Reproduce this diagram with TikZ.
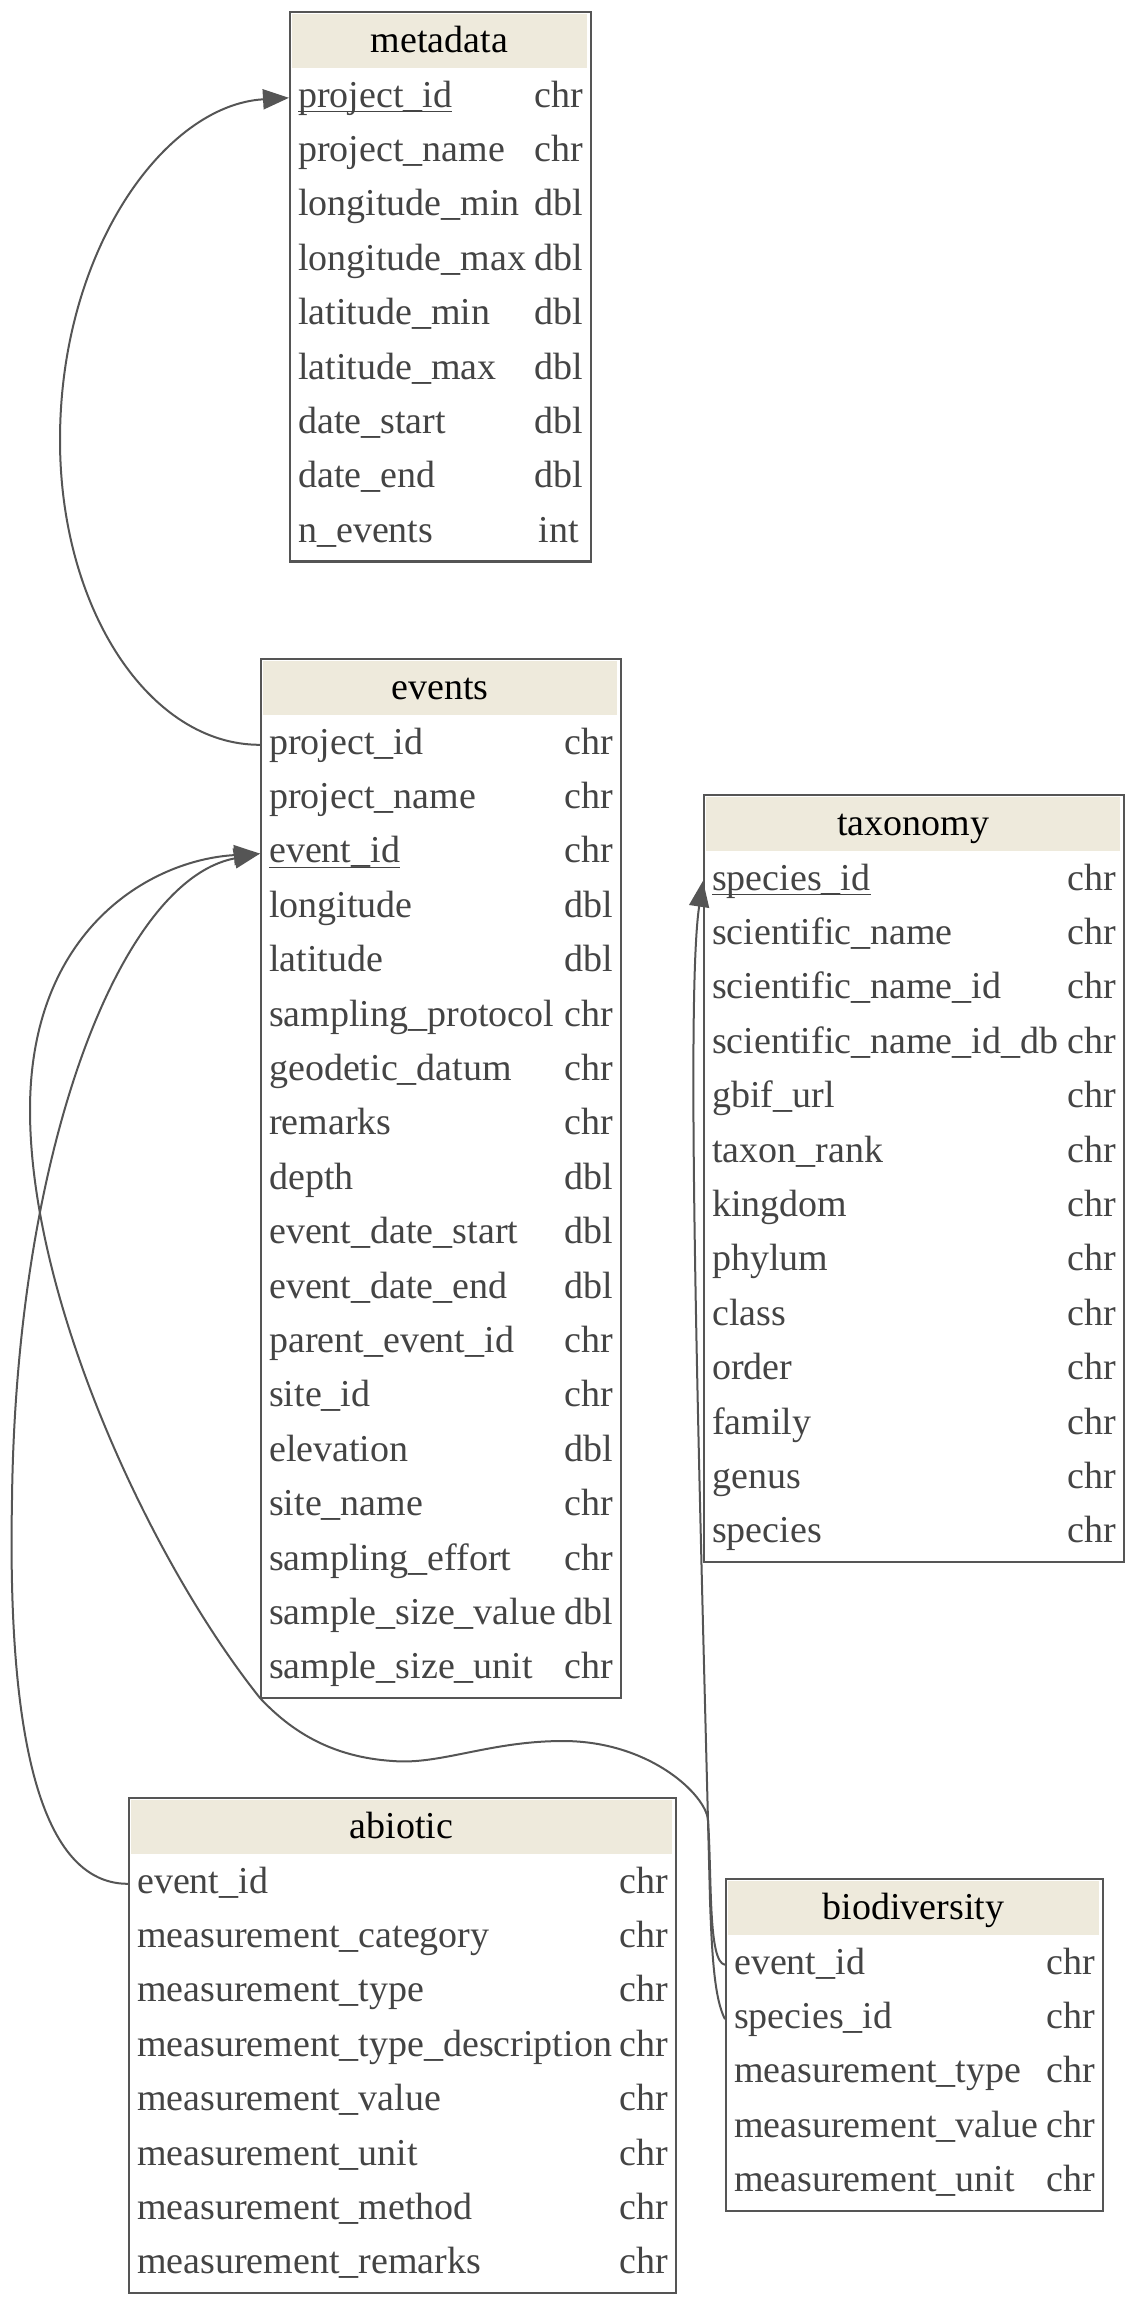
\documentclass[tikz,border=0pt]{standalone}
\usepackage{fontspec}
\setmainfont{Liberation Serif}
\usetikzlibrary{arrows.meta}
\definecolor{hdrfill}{HTML}{EEEADC}
\definecolor{linegray}{HTML}{555555}
\definecolor{txtgray}{HTML}{444444}
\tikzset{
  tbl/.style={draw=linegray, line width=2.4pt, rectangle, inner sep=0pt, anchor=north west},
  hdrtext/.style={font=\fontsize{38}{40}\selectfont, text=black, anchor=base, inner sep=0pt},
  fld/.style={font=\fontsize{38}{40}\selectfont, text=txtgray, anchor=base west, inner sep=0pt},
  typ/.style={font=\fontsize{38}{40}\selectfont, text=txtgray, anchor=base, inner sep=0pt},
  rowbox/.style={inner sep=0pt, outer sep=0pt, minimum height=54.4pt, anchor=north west},
  fk/.style={draw=linegray, line width=2pt, -{Triangle[length=26pt,width=20pt]}},
}
\newcommand\dmtable[7]{%
  \pgfmathsetmacro\dmB{#4+59.6+54.4*#6}%
  \pgfmathsetmacro\dmW{#5-#3}%
  \pgfmathsetmacro\dmH{\dmB-#4}%
  \fill[hdrfill] (#3+3,#4+3) rectangle (#5-3,#4+57);
  \node[tbl, minimum width=\dmW pt, minimum height=\dmH pt] (#1) at (#3,#4) {};
  \node[hdrtext] (#1-title) at ({(#3+#5)/2},#4+41) {#2};
  \foreach [count=\i] \n/\t/\k in {#7} {
    \pgfmathsetmacro\rt{#4+59.6+54.4*(\i-1)}
    \node[rowbox, minimum width=\dmW pt] (#1-\i) at (#3,\rt) {};
    \node[fld] (#1-\i-name) at (#3+9,\rt+36.4) {\n};
    \node[typ] (#1-\i-type) at (#5-31.5,\rt+36.4) {\t};
    \ifnum\k=1
      \draw[txtgray, line width=1.6pt] ([yshift=-4.5pt]#1-\i-name.base west) -- ([yshift=-4.5pt]#1-\i-name.base east);
    \fi
  }
}
\begin{document}
\begin{tikzpicture}[x=1pt,y=-1pt]
\useasboundingbox (0,0) rectangle (1134,2303);
\dmtable{md}{metadata}{289}{11}{590}{9}{%
project\_id/chr/1,project\_name/chr/0,longitude\_min/dbl/0,longitude\_max/dbl/0,%
latitude\_min/dbl/0,latitude\_max/dbl/0,date\_start/dbl/0,date\_end/dbl/0,n\_events/int/0}
\dmtable{ev}{events}{260}{658}{620}{18}{%
project\_id/chr/0,project\_name/chr/0,event\_id/chr/1,longitude/dbl/0,latitude/dbl/0,%
sampling\_protocol/chr/0,geodetic\_datum/chr/0,remarks/chr/0,depth/dbl/0,%
event\_date\_start/dbl/0,event\_date\_end/dbl/0,parent\_event\_id/chr/0,site\_id/chr/0,%
elevation/dbl/0,site\_name/chr/0,sampling\_effort/chr/0,sample\_size\_value/dbl/0,%
sample\_size\_unit/chr/0}
\dmtable{tx}{taxonomy}{703}{794}{1123}{13}{%
species\_id/chr/1,scientific\_name/chr/0,scientific\_name\_id/chr/0,%
scientific\_name\_id\_db/chr/0,gbif\_url/chr/0,taxon\_rank/chr/0,kingdom/chr/0,%
phylum/chr/0,class/chr/0,order/chr/0,family/chr/0,genus/chr/0,species/chr/0}
\dmtable{ab}{abiotic}{128}{1797}{675}{8}{%
event\_id/chr/0,measurement\_category/chr/0,measurement\_type/chr/0,%
measurement\_type\_description/chr/0,measurement\_value/chr/0,measurement\_unit/chr/0,%
measurement\_method/chr/0,measurement\_remarks/chr/0}
\dmtable{bd}{biodiversity}{725}{1878}{1102}{5}{%
event\_id/chr/0,species\_id/chr/0,measurement\_type/chr/0,measurement\_value/chr/0,%
measurement\_unit/chr/0}
% connectors
\draw[fk] (ev-1.west) .. controls (150,745) and (60,610) .. (60,440)
  .. controls (60,250) and (165,105) .. (md-1.west);
\draw[fk] (ab-1.west) .. controls (30,1884) and (8,1700) .. (12,1500)
  .. controls (16,1150) and (120,880) .. (ev-3.west);
\draw[fk] (bd-1.west) .. controls (708,1962) and (712,1880) .. (708,1820)
  .. controls (706,1795) and (650,1741) .. (563,1741)
  .. controls (490,1741) and (440,1765) .. (393,1761)
  .. controls (330,1757) and (290,1730) .. (260,1698)
  .. controls (150,1560) and (30,1300) .. (30,1110)
  .. controls (30,930) and (150,860) .. (ev-3.west);
\draw[fk] (bd-2.west) .. controls (715,2000) and (712,1960) .. (710,1900)
  .. controls (700,1500) and (685,1000) .. (tx-1.west);
\end{tikzpicture}
\end{document}
